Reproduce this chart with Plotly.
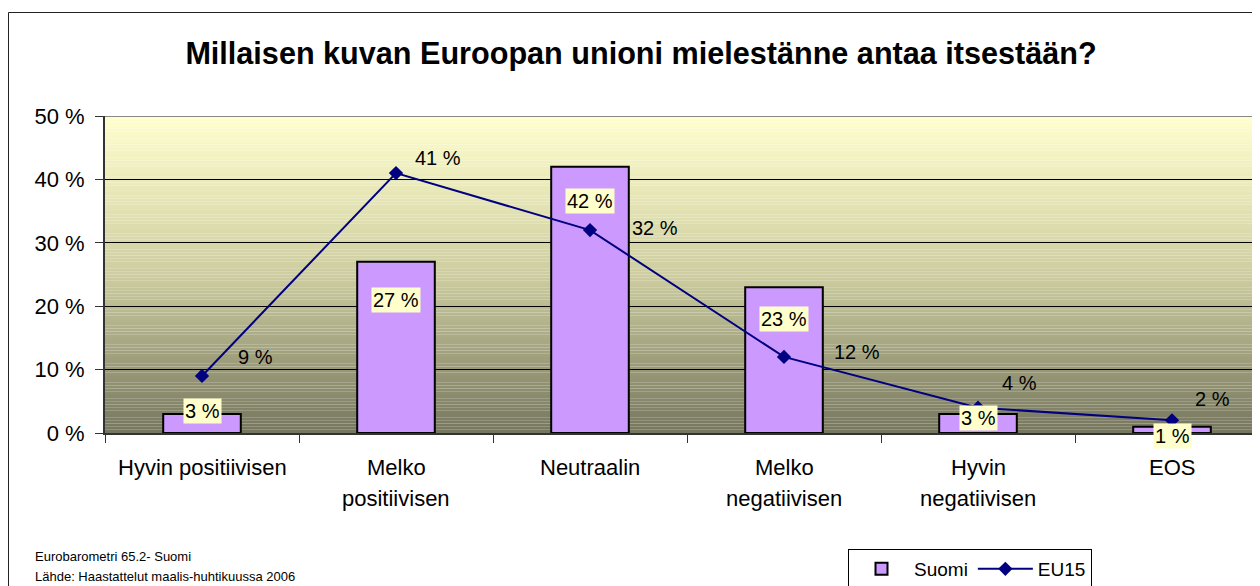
import plotly.graph_objects as go

# ---- data ----
categories = ["Hyvin positiivisen", "Melko positiivisen", "Neutraalin",
              "Melko negatiivisen", "Hyvin negatiivisen", "EOS"]
tick_labels = ["Hyvin positiivisen", "Melko<br>positiivisen", "Neutraalin",
               "Melko<br>negatiivisen", "Hyvin<br>negatiivisen", "EOS"]
suomi = [3, 27, 42, 23, 3, 1]
eu15 = [9, 41, 32, 12, 4, 2]
y_ticks = [0, 10, 20, 30, 40, 50]

title = "Millaisen kuvan Euroopan unioni mielestänne antaa itsestään?"
footnote = ["Eurobarometri 65.2- Suomi", "Lähde: Haastattelut maalis-huhtikuussa 2006"]

# ---- styling / layout helpers ----
OFF = 8                      # default page body margin
W, H = 1260 - OFF, 586 - OFF
PL, PT, PB = 105, 116, 433   # plot area in page pixels
L, T = PL - OFF, PT - OFF
B = H - (PB - OFF)
plot_w = W - L
plot_h = H - T - B
cat_px = 194.0
FONT = "Liberation Sans, Arial, sans-serif"

def px_x(px):
    return (px - OFF - L) / plot_w

def px_y(py):
    return (PB - py) / plot_h

bar_label_dy = [3, -38, -34, -32, -4, -9]
line_label_dx = [53, 42, 65, 73, 41, 40]
line_label_dy = [19, 15, 2, 5, 25, 21]

fig = go.Figure()
fig.add_trace(go.Bar(
    x=categories, y=suomi, name="Suomi", width=0.4,
    marker=dict(color="#CC99FF", line=dict(color="black", width=2)),
))
fig.add_trace(go.Scatter(
    x=categories, y=eu15, name="EU15", mode="lines+markers",
    line=dict(color="#000080", width=2),
    marker=dict(symbol="diamond", size=11, color="#000080"),
))

shapes = []
# gradient background
stops = [(0.0, (118, 118, 94)), (0.5, (205, 205, 160)), (1.0, (255, 255, 206))]
def grad(t):
    for (t0, c0), (t1, c1) in zip(stops[:-1], stops[1:]):
        if t0 <= t <= t1:
            f = (t - t0) / (t1 - t0)
            return tuple(int(round(a + (b - a) * f)) for a, b in zip(c0, c1))
    return stops[-1][1]
N = 100
for k in range(N):
    y0 = 50 * k / N
    y1 = 50 * (k + 1) / N
    c = grad((k + 0.5) / N)
    shapes.append(dict(type="rect", xref="paper", yref="y", x0=0, x1=1, y0=y0, y1=y1,
                       fillcolor="rgb(%d,%d,%d)" % c, line=dict(width=0), layer="below"))
# top border of plot area
shapes.append(dict(type="line", xref="paper", yref="y", x0=0, x1=1, y0=50, y1=50,
                   line=dict(color="#888888", width=2), layer="above"))
# outer chart border
shapes.append(dict(type="rect", xref="paper", yref="paper",
                   x0=px_x(8.5), x1=px_x(1275), y0=px_y(12.5), y1=px_y(600),
                   line=dict(color="#222222", width=1), fillcolor="rgba(0,0,0,0)", layer="above"))

annotations = []
for i, (c, v) in enumerate(zip(categories, suomi)):
    annotations.append(dict(x=c, y=v, xref="x", yref="y", text=f"{v} %", showarrow=False,
                            yshift=bar_label_dy[i], bgcolor="#FFFFCC", borderpad=1,
                            font=dict(family=FONT, size=20, color="black")))
for i, (c, v) in enumerate(zip(categories, eu15)):
    annotations.append(dict(x=c, y=v, xref="x", yref="y", text=f"{v} %", showarrow=False,
                            xshift=line_label_dx[i], yshift=line_label_dy[i],
                            font=dict(family=FONT, size=20, color="black")))
for c, lab in zip(categories, tick_labels):
    for j, line in enumerate(lab.split("<br>")):
        annotations.append(dict(x=c, y=0, xref="x", yref="paper", text=line, showarrow=False,
                                yshift=-(34 + 31 * j), yanchor="middle",
                                font=dict(family=FONT, size=22, color="black")))
for j, line in enumerate(footnote):
    annotations.append(dict(x=px_x(33), y=px_y(556 + 20 * j), xref="paper", yref="paper",
                            text=line, showarrow=False, xanchor="left", yanchor="middle",
                            font=dict(family=FONT, size=13, color="black")))

fig.update_layout(
    width=W, height=H,
    margin=dict(l=L, r=0, t=T, b=B, autoexpand=False),
    paper_bgcolor="white", plot_bgcolor="rgba(0,0,0,0)",
    title=dict(text="<b>" + title + "</b>", x=(641 - OFF) / W, xanchor="center",
               y=1 - (53 - OFF) / H, yanchor="middle",
               font=dict(family=FONT, size=30.6, color="black")),
    font=dict(family=FONT, size=19, color="black"),
    showlegend=True,
    legend=dict(orientation="h", x=px_x(848), y=px_y(549), xanchor="left", yanchor="top",
                bordercolor="black", borderwidth=1, bgcolor="white",
                font=dict(family=FONT, size=19), itemwidth=55),
    shapes=shapes, annotations=annotations,
    bargap=0.6,
)
fig.update_xaxes(
    type="category", categoryorder="array", categoryarray=categories,
    range=[-0.5, -0.5 + plot_w / cat_px],
    showticklabels=False, showgrid=False, zeroline=False,
    showline=True, linecolor="#333333", linewidth=2,
    ticks="outside", tickson="boundaries", ticklen=8, tickcolor="#333333", tickwidth=1,
)
fig.update_yaxes(
    range=[0, 50], tickvals=y_ticks, ticktext=[f"{t} %" for t in y_ticks],
    showgrid=True, gridcolor="black", gridwidth=1, zeroline=False,
    showline=True, linecolor="#333333", linewidth=2,
    ticks="outside", ticklen=8, tickcolor="#333333", tickwidth=1,
    ticklabelstandoff=6,
    tickfont=dict(family=FONT, size=22, color="black"),
)

fig.write_html("out.html")
